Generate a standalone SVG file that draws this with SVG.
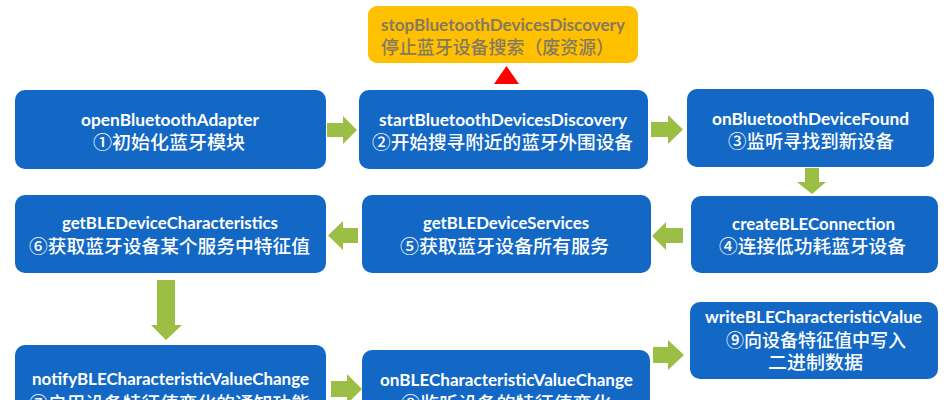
<svg xmlns="http://www.w3.org/2000/svg" width="952" height="400" viewBox="0 0 952 400">
<style>
.box{fill:#1268C4;}
.stop{fill:#FFC000;}
.arr{fill:#9BBE45;}
.en{font-family:Lato,"Liberation Sans","Noto Sans CJK SC",sans-serif;font-weight:bold;font-size:17px;fill:#FFFFFF;text-anchor:middle;}
.zh{font-family:"Noto Sans CJK SC",sans-serif;font-weight:500;font-size:18.5px;fill:#FFFFFF;text-anchor:middle;}
.dk{fill:#857A60;}
</style>
<rect width="952" height="400" fill="#FFFFFF"/>
<g id="connectors">
<polygon points="494,84 506.5,66 519,84" fill="#FF0000"/>
<polygon class="arr" points="327,123 343,123 343,116 357,130 343,144 343,137 327,137"/>
<polygon class="arr" points="651,122 668,122 668,115 683,129.5 668,144 668,137 651,137"/>
<polygon class="arr" points="805,168 819,168 819,182 826,182 812,194 797,182 805,182"/>
<polygon class="arr" points="683,228 666,228 666,222 652,236 666,250 666,243 683,243"/>
<polygon class="arr" points="358,228 343,228 343,221 328,235.5 343,250 343,243 358,243"/>
<polygon class="arr" points="157,280 175,280 175,325 182,325 166,340 151,325 157,325"/>
<polygon class="arr" points="331,381 347,381 347,374 362,389 347,404 347,397 331,397"/>
<polygon class="arr" points="653,347 668,347 668,340 684,355 668,370 668,363 653,363"/>
</g>
<g id="stop">
<rect class="stop" x="368" y="6" width="270" height="57" rx="9"/>
<text class="en dk" x="503" y="31" textLength="244" lengthAdjust="spacingAndGlyphs">stopBluetoothDevicesDiscovery</text>
<text class="zh dk" x="497.5" y="54" textLength="233" lengthAdjust="spacingAndGlyphs">停止蓝牙设备搜索（废资源）</text>
</g>
<g id="n1">
<rect class="box" x="15" y="90" width="311" height="79" rx="10"/>
<text class="en" x="170" y="126" textLength="178" lengthAdjust="spacingAndGlyphs">openBluetoothAdapter</text>
<text class="zh" x="169" y="149" textLength="152" lengthAdjust="spacingAndGlyphs">①初始化蓝牙模块</text>
</g>
<g id="n2">
<rect class="box" x="359" y="90" width="289" height="79" rx="10"/>
<text class="en" x="503" y="126" textLength="248" lengthAdjust="spacingAndGlyphs">startBluetoothDevicesDiscovery</text>
<text class="zh" x="502.5" y="149" textLength="261" lengthAdjust="spacingAndGlyphs">②开始搜寻附近的蓝牙外围设备</text>
</g>
<g id="n3">
<rect class="box" x="687" y="89" width="247" height="78" rx="10"/>
<text class="en" x="810.5" y="125" textLength="197" lengthAdjust="spacingAndGlyphs">onBluetoothDeviceFound</text>
<text class="zh" x="811" y="148" textLength="166" lengthAdjust="spacingAndGlyphs">③监听寻找到新设备</text>
</g>
<g id="n6">
<rect class="box" x="15" y="195" width="311" height="78" rx="10"/>
<text class="en" x="170" y="229" textLength="216" lengthAdjust="spacingAndGlyphs">getBLEDeviceCharacteristics</text>
<text class="zh" x="169.5" y="253" textLength="281" lengthAdjust="spacingAndGlyphs">⑥获取蓝牙设备某个服务中特征值</text>
</g>
<g id="n5">
<rect class="box" x="362" y="195" width="289" height="78" rx="10"/>
<text class="en" x="506" y="229" textLength="166" lengthAdjust="spacingAndGlyphs">getBLEDeviceServices</text>
<text class="zh" x="504.5" y="253" textLength="209" lengthAdjust="spacingAndGlyphs">⑤获取蓝牙设备所有服务</text>
</g>
<g id="n4">
<rect class="box" x="691" y="196" width="247" height="77" rx="10"/>
<text class="en" x="813.5" y="230" textLength="163" lengthAdjust="spacingAndGlyphs">createBLEConnection</text>
<text class="zh" x="812.5" y="253" textLength="187" lengthAdjust="spacingAndGlyphs">④连接低功耗蓝牙设备</text>
</g>
<g id="n7">
<rect class="box" x="15" y="345" width="311" height="80" rx="10"/>
<text class="en" x="170.5" y="385" textLength="277" lengthAdjust="spacingAndGlyphs">notifyBLECharacteristicValueChange</text>
<text class="zh" x="169.5" y="410" textLength="281" lengthAdjust="spacingAndGlyphs">⑦启用设备特征值变化的通知功能</text>
</g>
<g id="n8">
<rect class="box" x="362" y="350" width="288" height="80" rx="10"/>
<text class="en" x="506.5" y="386" textLength="253" lengthAdjust="spacingAndGlyphs">onBLECharacteristicValueChange</text>
<text class="zh" x="506" y="410" textLength="210" lengthAdjust="spacingAndGlyphs">⑧监听设备的特征值变化</text>
</g>
<g id="n9">
<rect class="box" x="690" y="302" width="248" height="77" rx="10"/>
<text class="en" x="813.5" y="323" textLength="217" lengthAdjust="spacingAndGlyphs">writeBLECharacteristicValue</text>
<text class="zh" x="816" y="346.5" textLength="180" lengthAdjust="spacingAndGlyphs">⑨向设备特征值中写入</text>
<text class="zh" x="815.5" y="369" textLength="95" lengthAdjust="spacingAndGlyphs">二进制数据</text>
</g>
</svg>
